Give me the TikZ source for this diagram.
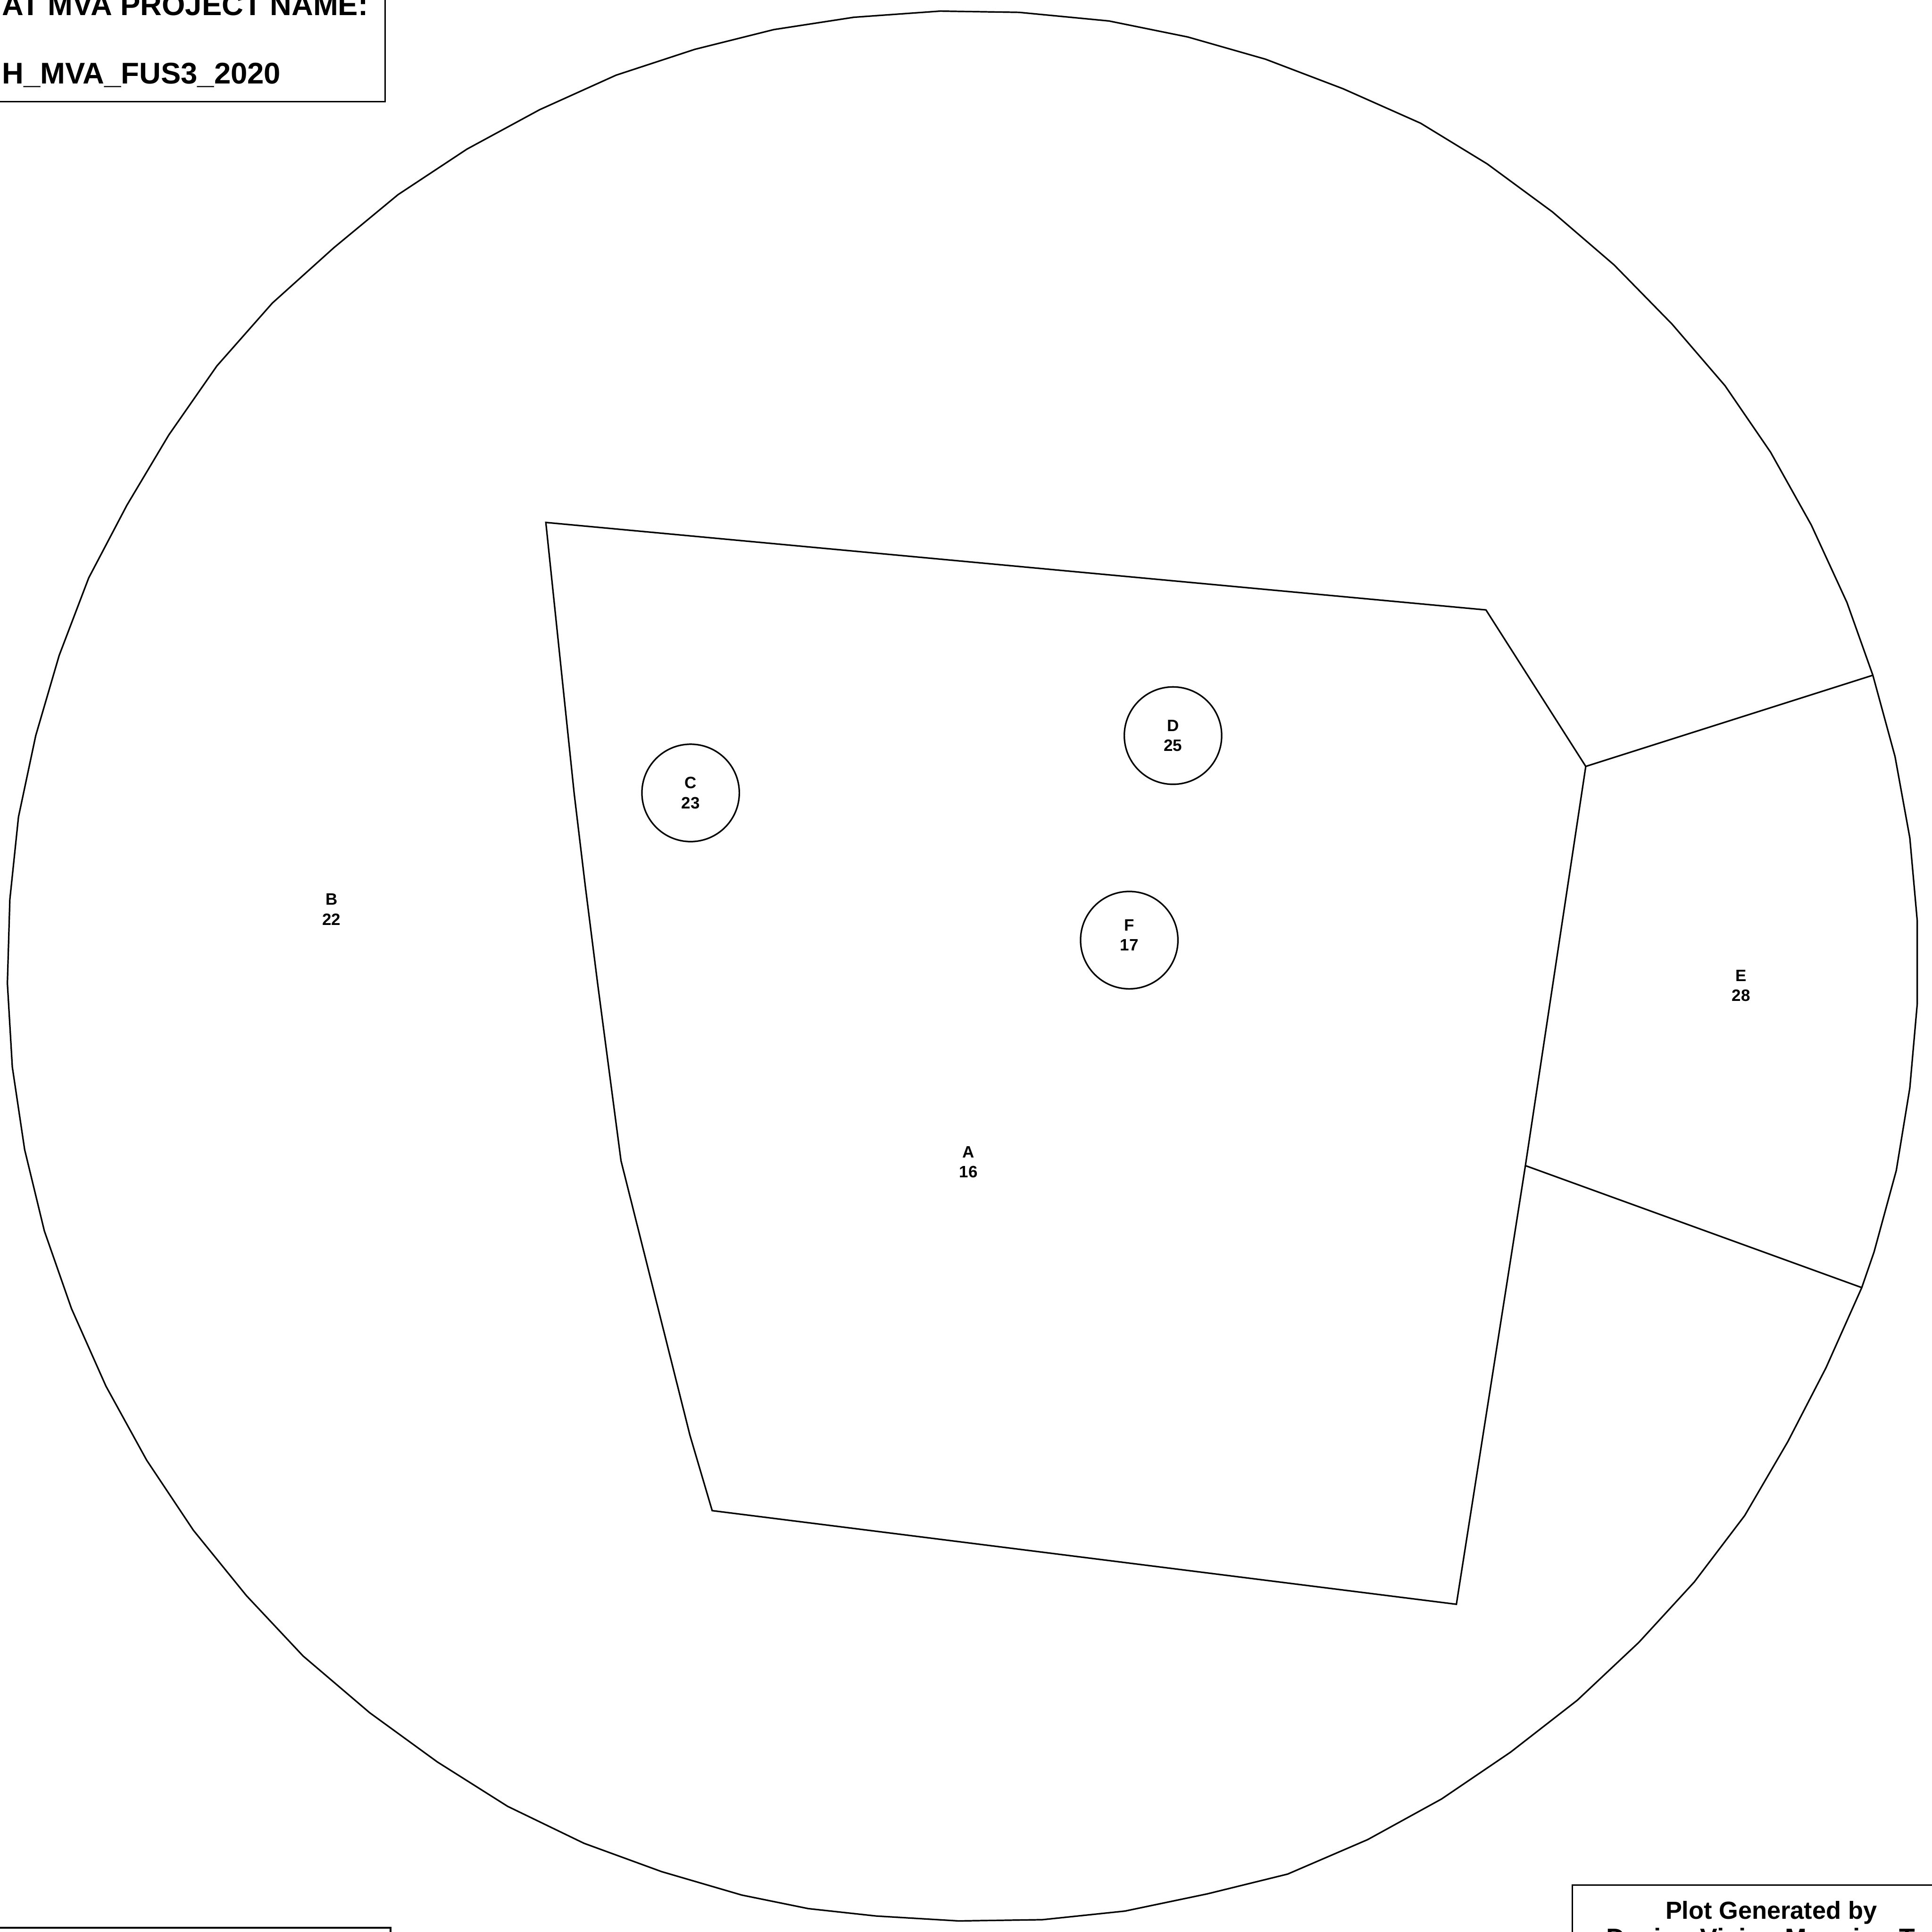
\documentclass[tikz,border=0pt]{standalone}
\usepackage{fontspec}
\setmainfont{Liberation Sans}
\usetikzlibrary{calc}

\tikzset{
	zone/.style={draw, line width=0.35pt},
	lbl/.style={font=\bfseries\fontsize{3.8}{4.6}\selectfont, align=center, inner sep=0pt},
	pocket/.style={draw, circle, line width=0.35pt, minimum size=0.79cm, inner sep=0pt,
		font=\bfseries\fontsize{3.8}{4.6}\selectfont, align=center},
	hdr/.style={font=\bfseries\fontsize{6.9}{8}\selectfont, inner sep=0pt}
}

\begin{document}
\begin{tikzpicture}[x=0.01cm, y=-0.01cm]

	\useasboundingbox (0,0) rectangle (1568,1568);

	% Knoten der Zonen
	\coordinate (A1) at (443,424);
	\coordinate (A2) at (1206,495);
	\coordinate (A3) at (1287,622);
	\coordinate (A4) at (1238,946);
	\coordinate (A5) at (1182,1302);
	\coordinate (A6) at (578,1226);
	\coordinate (A7) at (560,1165);
	\coordinate (A8) at (504,942);
	\coordinate (A9) at (485,798);
	\coordinate (A10) at (475,719);
	\coordinate (A11) at (466,644);
	\coordinate (E1) at (1520,548);
	\coordinate (E2) at (1511,1045);

	% Umriss
	\draw[zone] (763,9) -- (827,10) -- (900,17) -- (964,30) -- (1027,48) -- (1090,72)
		-- (1153,100) -- (1207,133) -- (1260,172) -- (1310,215) -- (1357,263) -- (1400,313)
		-- (1437,367) -- (1470,426) -- (1499,489) -- (E1) -- (1538,614) -- (1550,680)
		-- (1556,747) -- (1556,815) -- (1550,883) -- (1539,950) -- (1521,1016) -- (E2)
		-- (1482,1110) -- (1451,1170) -- (1416,1230) -- (1375,1284) -- (1330,1333)
		-- (1280,1380) -- (1226,1422) -- (1170,1460) -- (1110,1493) -- (1045,1521)
		-- (980,1537) -- (913,1551) -- (846,1558) -- (778,1559) -- (711,1555) -- (656,1549)
		-- (602,1538) -- (537,1519) -- (474,1496) -- (412,1466) -- (355,1430) -- (300,1390)
		-- (246,1344) -- (200,1295) -- (157,1242) -- (119,1185) -- (86,1125) -- (58,1062)
		-- (36,999) -- (20,933) -- (10,866) -- (6,798) -- (8,730) -- (15,663) -- (29,597)
		-- (48,532) -- (72,469) -- (103,410) -- (137,353) -- (176,297) -- (221,246)
		-- (271,201) -- (323,158) -- (379,121) -- (438,89) -- (500,61) -- (564,40)
		-- (628,24) -- (693,14) -- cycle;

	% Zone A
	\draw[zone] (A1) -- (A2) -- (A3) -- (A4) -- (A5) -- (A6) -- (A7) -- (A8) -- (A9)
		-- (A10) -- (A11) -- cycle;

	% Zone E
	\draw[zone] (A3) -- (E1);
	\draw[zone] (A4) -- (E2);

	% Beschriftung
	\node[lbl] (A) at (786,943) {A\\16};
	\node[lbl] (B) at (269,738) {B\\22};
	\node[lbl] (E) at (1413,800) {E\\28};

	\node[pocket] (C) at (560.5,643.5) {C\\23};
	\node[pocket] (D) at (952,597) {D\\25};
	\node[pocket] (F) at (916.5,763) {F\\17\rule[-2.3pt]{0pt}{0pt}};

	% Kopf
	\draw[zone] (-10,-10) rectangle (312.5,82.5);
	\node[hdr, anchor=base west] (projlbl) at (1,12.6) {AT MVA PROJECT NAME:};
	\node[hdr, anchor=base west] (projname) at (1,68) {H\_MVA\_FUS3\_2020};

	% Fuss
	\draw[zone] (-10,1564.5) rectangle (317,1600);
	\draw[zone] (1276,1530) rectangle (1600,1600);
	\node[hdr, font=\bfseries\fontsize{5.7}{7}\selectfont, anchor=base] (plotby) at (1437.5,1557.6) {Plot Generated by};
	\node[hdr, font=\bfseries\fontsize{6}{7}\selectfont, anchor=base west] (tool) at (1303,1580) {Design Vision Mapping T};

\end{tikzpicture}
\end{document}
